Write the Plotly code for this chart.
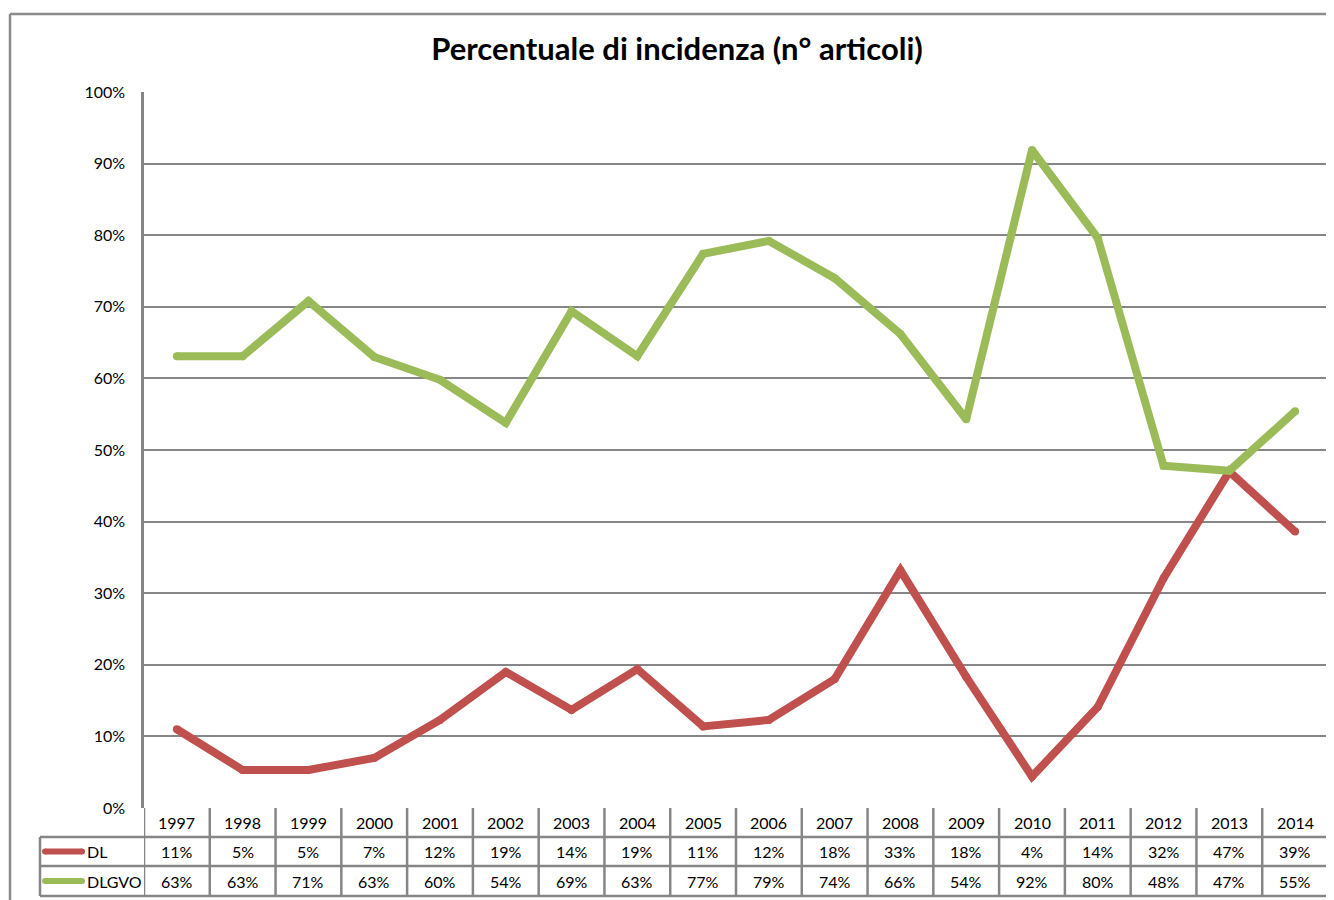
import plotly.graph_objects as go

# ---- data ----
years = ["1997", "1998", "1999", "2000", "2001", "2002", "2003", "2004", "2005",
         "2006", "2007", "2008", "2009", "2010", "2011", "2012", "2013", "2014"]
dl = [11.0, 5.3, 5.3, 7.0, 12.3, 19.0, 13.7, 19.4, 11.4, 12.3, 18.0, 33.2, 18.3, 4.4, 14.1, 32.1, 47.0, 38.6]
dlgvo = [63.1, 63.1, 70.8, 63.0, 59.8, 53.8, 69.4, 63.1, 77.4, 79.2, 74.0, 66.2, 54.3, 91.9, 79.6, 47.8, 47.1, 55.4]
series_names = ["DL", "DLGVO"]
series_values = [dl, dlgvo]
series_colors = ["#C0504D", "#9BBB59"]
title_text = "Percentuale di incidenza (n° articoli)"

# ---- geometry: reference page pixels -> figure pixels (page body has an 8px margin) ----
OFF = 8
W, H = 1334 - OFF, 900 - OFF
PLOT_L, PLOT_R, PLOT_T, PLOT_B = 144, 1328, 92, 808  # reference page pixels
L, T = PLOT_L - OFF, PLOT_T - OFF
R, B = W - (PLOT_R - OFF), H - (PLOT_B - OFF)
PW, PH = PLOT_R - PLOT_L, PLOT_B - PLOT_T


def px_x(px):  # reference page x -> paper coordinate
    return (px - PLOT_L) / PW


def px_y(py):  # reference page y -> paper coordinate
    return (PLOT_B - py) / PH


FONT = "Lato, 'Open Sans', sans-serif"
TXT = "#000000"
GRID = "#868686"

fig = go.Figure()
xi = list(range(len(years)))
for name, vals, col in zip(series_names, series_values, series_colors):
    fig.add_trace(go.Scatter(x=xi, y=vals, mode="lines+markers", name=name,
                             line=dict(color=col, width=8),
                             marker=dict(color=col, size=8, line=dict(width=0)),
                             showlegend=False, cliponaxis=False))

shapes = []
# outer chart border
shapes.append(dict(type="line", xref="paper", yref="paper", x0=px_x(10), x1=px_x(1340),
                   y0=px_y(14), y1=px_y(14), line=dict(color="#8c8c8c", width=2.5)))
shapes.append(dict(type="line", xref="paper", yref="paper", x0=px_x(10), x1=px_x(10),
                   y0=px_y(14), y1=px_y(905), line=dict(color="#8c8c8c", width=2.5)))

# ---- data table ----
row_y = [808, 837, 866, 896]
n = len(years)
tl = dict(color=GRID, width=2.5)
for py in row_y[1:]:
    shapes.append(dict(type="line", xref="paper", yref="paper", x0=px_x(40), x1=px_x(PLOT_R),
                       y0=px_y(py), y1=px_y(py), line=tl))
shapes.append(dict(type="line", xref="paper", yref="paper", x0=px_x(40), x1=px_x(40),
                   y0=px_y(row_y[1]), y1=px_y(row_y[3]), line=tl))
for i in range(-1, n):
    shapes.append(dict(type="line", xref="x", yref="paper", x0=i + 0.5, x1=i + 0.5,
                       y0=px_y(row_y[0]), y1=px_y(row_y[3]), line=tl))

annotations = []
hy = px_y((row_y[0] + row_y[1]) / 2)
for i, yr in enumerate(years):
    annotations.append(dict(x=i, y=hy, xref="x", yref="paper", text=yr, showarrow=False,
                            yanchor="middle", font=dict(family=FONT, size=16, color=TXT)))
for k, (name, vals, col) in enumerate(zip(series_names, series_values, series_colors)):
    ry = px_y((row_y[k + 1] + row_y[k + 2]) / 2)
    for i, v in enumerate(vals):
        annotations.append(dict(x=i, y=ry, xref="x", yref="paper", text=f"{round(v)}%",
                                showarrow=False, yanchor="middle",
                                font=dict(family=FONT, size=16, color=TXT)))
    # legend key with rounded ends
    sx0, sx1, rad = 45, 82, 3
    shapes.append(dict(type="line", xref="paper", yref="paper", x0=px_x(sx0), x1=px_x(sx1),
                       y0=ry, y1=ry, line=dict(color=col, width=2 * rad)))
    for cx in (sx0, sx1):
        shapes.append(dict(type="circle", xref="paper", yref="paper",
                           x0=px_x(cx - rad), x1=px_x(cx + rad),
                           y0=ry - rad / PH, y1=ry + rad / PH,
                           fillcolor=col, line_width=0))
    annotations.append(dict(x=px_x(85), y=ry, xref="paper", yref="paper", text=name,
                            xanchor="left", yanchor="middle", showarrow=False,
                            font=dict(family=FONT, size=16, color=TXT)))

fig.update_layout(
    width=W, height=H,
    margin=dict(l=L, r=R, t=T, b=B),
    paper_bgcolor="white", plot_bgcolor="white",
    title=dict(text=f"<b>{title_text}</b>", x=(677 - OFF) / W, xanchor="center",
               y=1 - (49 - OFF) / H, yanchor="middle", yref="container",
               font=dict(family=FONT, size=31, color="#000000")),
    xaxis=dict(range=[-0.5, n - 0.5], showticklabels=False,
               showgrid=False, zeroline=False, showline=False, ticks=""),
    yaxis=dict(range=[0, 100], dtick=10, ticksuffix="%", showgrid=True,
               gridcolor=GRID, gridwidth=2, zeroline=False, showline=True,
               linecolor=GRID, linewidth=2.5, ticks="", ticklabelstandoff=13,
               tickfont=dict(family=FONT, size=16, color=TXT)),
    shapes=shapes, annotations=annotations,
)

fig.write_html("out.html")
